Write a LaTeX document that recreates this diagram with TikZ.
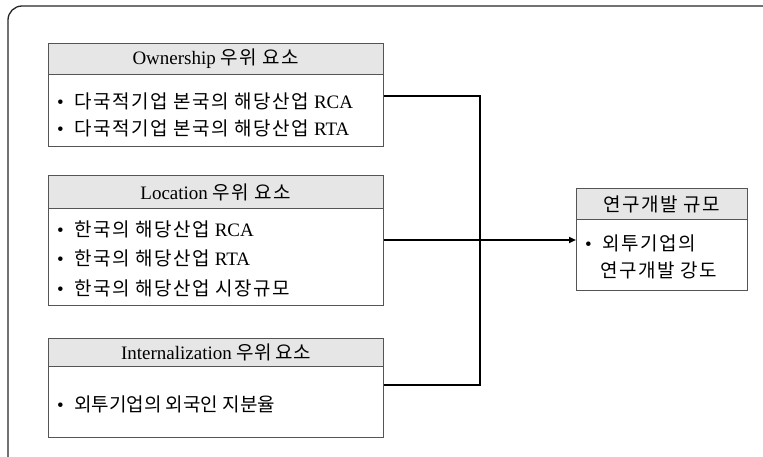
\documentclass[tikz,border=0pt]{standalone}
\usepackage{fontspec}
\setmainfont{Liberation Serif}
\newfontfamily\kr[LetterSpace=8]{Noto Sans CJK KR}
\newfontfamily\krn{Noto Sans CJK KR}
\usetikzlibrary{arrows.meta,calc}
\definecolor{boxgray}{HTML}{555555}
\definecolor{hdrgray}{HTML}{E6E6E6}
\newcommand\itembul{•\hspace{0.55em}}
\begin{document}
\begin{tikzpicture}[x=1pt,y=-1pt,
  hdrbox/.style={draw=boxgray, fill=hdrgray, line width=0.9pt, anchor=north west, inner sep=0pt, minimum width=335pt},
  bodybox/.style={draw=boxgray, fill=white, line width=0.9pt, anchor=north west, inner sep=0pt, minimum width=335pt},
  hdrtext/.style={font=\fontsize{19}{22}\selectfont, inner sep=0pt},
  itemtext/.style={font=\fontsize{19}{22}\selectfont, anchor=west, inner sep=0pt},
  conn/.style={line width=1.8pt, black},
  frame/.style={line width=1.3pt, draw=black!85}]
\useasboundingbox (0,0) rectangle (763,457);
% outer frame
\draw[frame, rounded corners=14pt] (8,470) -- (8,6) -- (780,6);

% Ownership box
\node[hdrbox, minimum height=31pt] (oh) at (48,43) {};
\node[hdrtext] (oht) at (oh.center) {Ownership {\kr 우위 요소}};
\node[bodybox, minimum height=72pt] (ob) at (48,74) {};
\node[itemtext] (o1) at (57,101) {\itembul{\kr 다국적기업 본국의 해당산업} RCA};
\node[itemtext] (o2) at (57,128) {\itembul{\kr 다국적기업 본국의 해당산업} RTA};

% Location box
\node[hdrbox, minimum height=33pt] (lh) at (48,175) {};
\node[hdrtext] (lht) at (lh.center) {Location {\kr 우위 요소}};
\node[bodybox, minimum height=97pt] (lb) at (48,208) {};
\node[itemtext] (l1) at (57,229) {\itembul{\kr 한국의 해당산업} RCA};
\node[itemtext] (l2) at (57,258) {\itembul{\kr 한국의 해당산업} RTA};
\node[itemtext] (l3) at (57,288) {\itembul{\kr 한국의 해당산업 시장규모}};

% Internalization box
\node[hdrbox, minimum height=28pt] (ih) at (48,338) {};
\node[hdrtext] (iht) at (ih.center) {Internalization {\krn 우위 요소}};
\node[bodybox, minimum height=71pt] (ib) at (48,366) {};
\node[itemtext] (i1) at (57,404) {\itembul{\krn 외투기업의 외국인 지분율}};

% Result box
\node[hdrbox, minimum width=171pt, minimum height=31pt] (rh) at (576,188) {};
\node[hdrtext] (rht) at (rh.center) {\kr 연구개발 규모};
\node[bodybox, minimum width=171pt, minimum height=71pt] (rb) at (576,219) {};
\node[itemtext] (r1) at (585,243) {\itembul{\kr 외투기업의}};
\node[itemtext] (r2) at (600,270) {\kr 연구개발 강도};

% connectors
\coordinate (j1) at (480,96);
\coordinate (j2) at (480,240);
\coordinate (j3) at (480,385);
\draw[conn] (ob.east |- j1) -- (j1) -- (j3) -- (ib.east |- j3);
\draw[conn] (lb.east |- j2) -- (j2);
\draw[conn, -{Triangle[length=7pt,width=6pt]}] (j2) -- (rb.west |- j2);
\end{tikzpicture}
\end{document}
